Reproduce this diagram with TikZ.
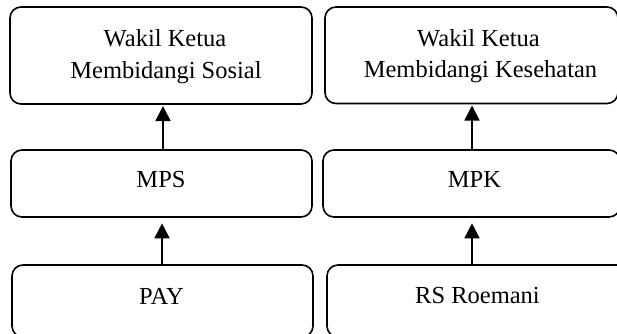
\documentclass[tikz,border=0pt]{standalone}
\usepackage{fontspec}
\setmainfont{Liberation Serif}
\usetikzlibrary{arrows.meta}
\begin{document}
\begin{tikzpicture}[x=1pt,y=-1pt,
  box/.style={draw, line width=1.6pt, rounded corners=11pt, inner sep=0pt},
  txt/.style={anchor=base, inner sep=0pt, font=\fontsize{24.5}{31.5}\selectfont},
  arr/.style={line width=1.6pt, -{Triangle[width=15pt,length=15pt]}}]
\useasboundingbox (0,0) rectangle (617,333);
\clip (0,0) rectangle (617,333);
% boxes
\node[box, minimum width=302pt, minimum height=97pt]   (tl) at (161,55.5) {};
\node[box, minimum width=293pt, minimum height=96.5pt] (tr) at (471.5,55.25) {};
\node[box, minimum width=301pt, minimum height=67pt]   (ml) at (161.5,183.5) {};
\node[box, minimum width=297pt, minimum height=67pt]   (mr) at (471.5,183.5) {};
\node[box, minimum width=301pt, minimum height=72pt]   (bl) at (162.5,301) {};
\node[box, minimum width=301pt, minimum height=72pt]   (br) at (477.5,301) {};
% texts
\node[txt] (tl1) at (165,46.5) {Wakil Ketua};
\node[txt] (tl2) at (166,78) {Membidangi Sosial};
\node[txt] (tr1) at (478.5,46.5) {Wakil Ketua};
\node[txt] (tr2) at (480.5,77.5) {Membidangi Kesehatan};
\node[txt] (mlt) at (161,187) {MPS};
\node[txt] (mrt) at (474.5,187) {MPK};
\node[txt] (blt) at (161.5,304) {PAY};
\node[txt] (brt) at (477.5,303.5) {RS Roemani};
% connectors
\draw[arr, shorten >=1.2pt] (163,0 |- ml.north) -- (163,0 |- tl.south);
\draw[arr, shorten >=1.2pt] (472,0 |- mr.north) -- (472,0 |- tr.south);
\draw[arr, shorten >=5.5pt] (162,0 |- bl.north) -- (162,0 |- ml.south);
\draw[arr, shorten >=5.5pt] (472,0 |- br.north) -- (472,0 |- mr.south);
\end{tikzpicture}
\end{document}
